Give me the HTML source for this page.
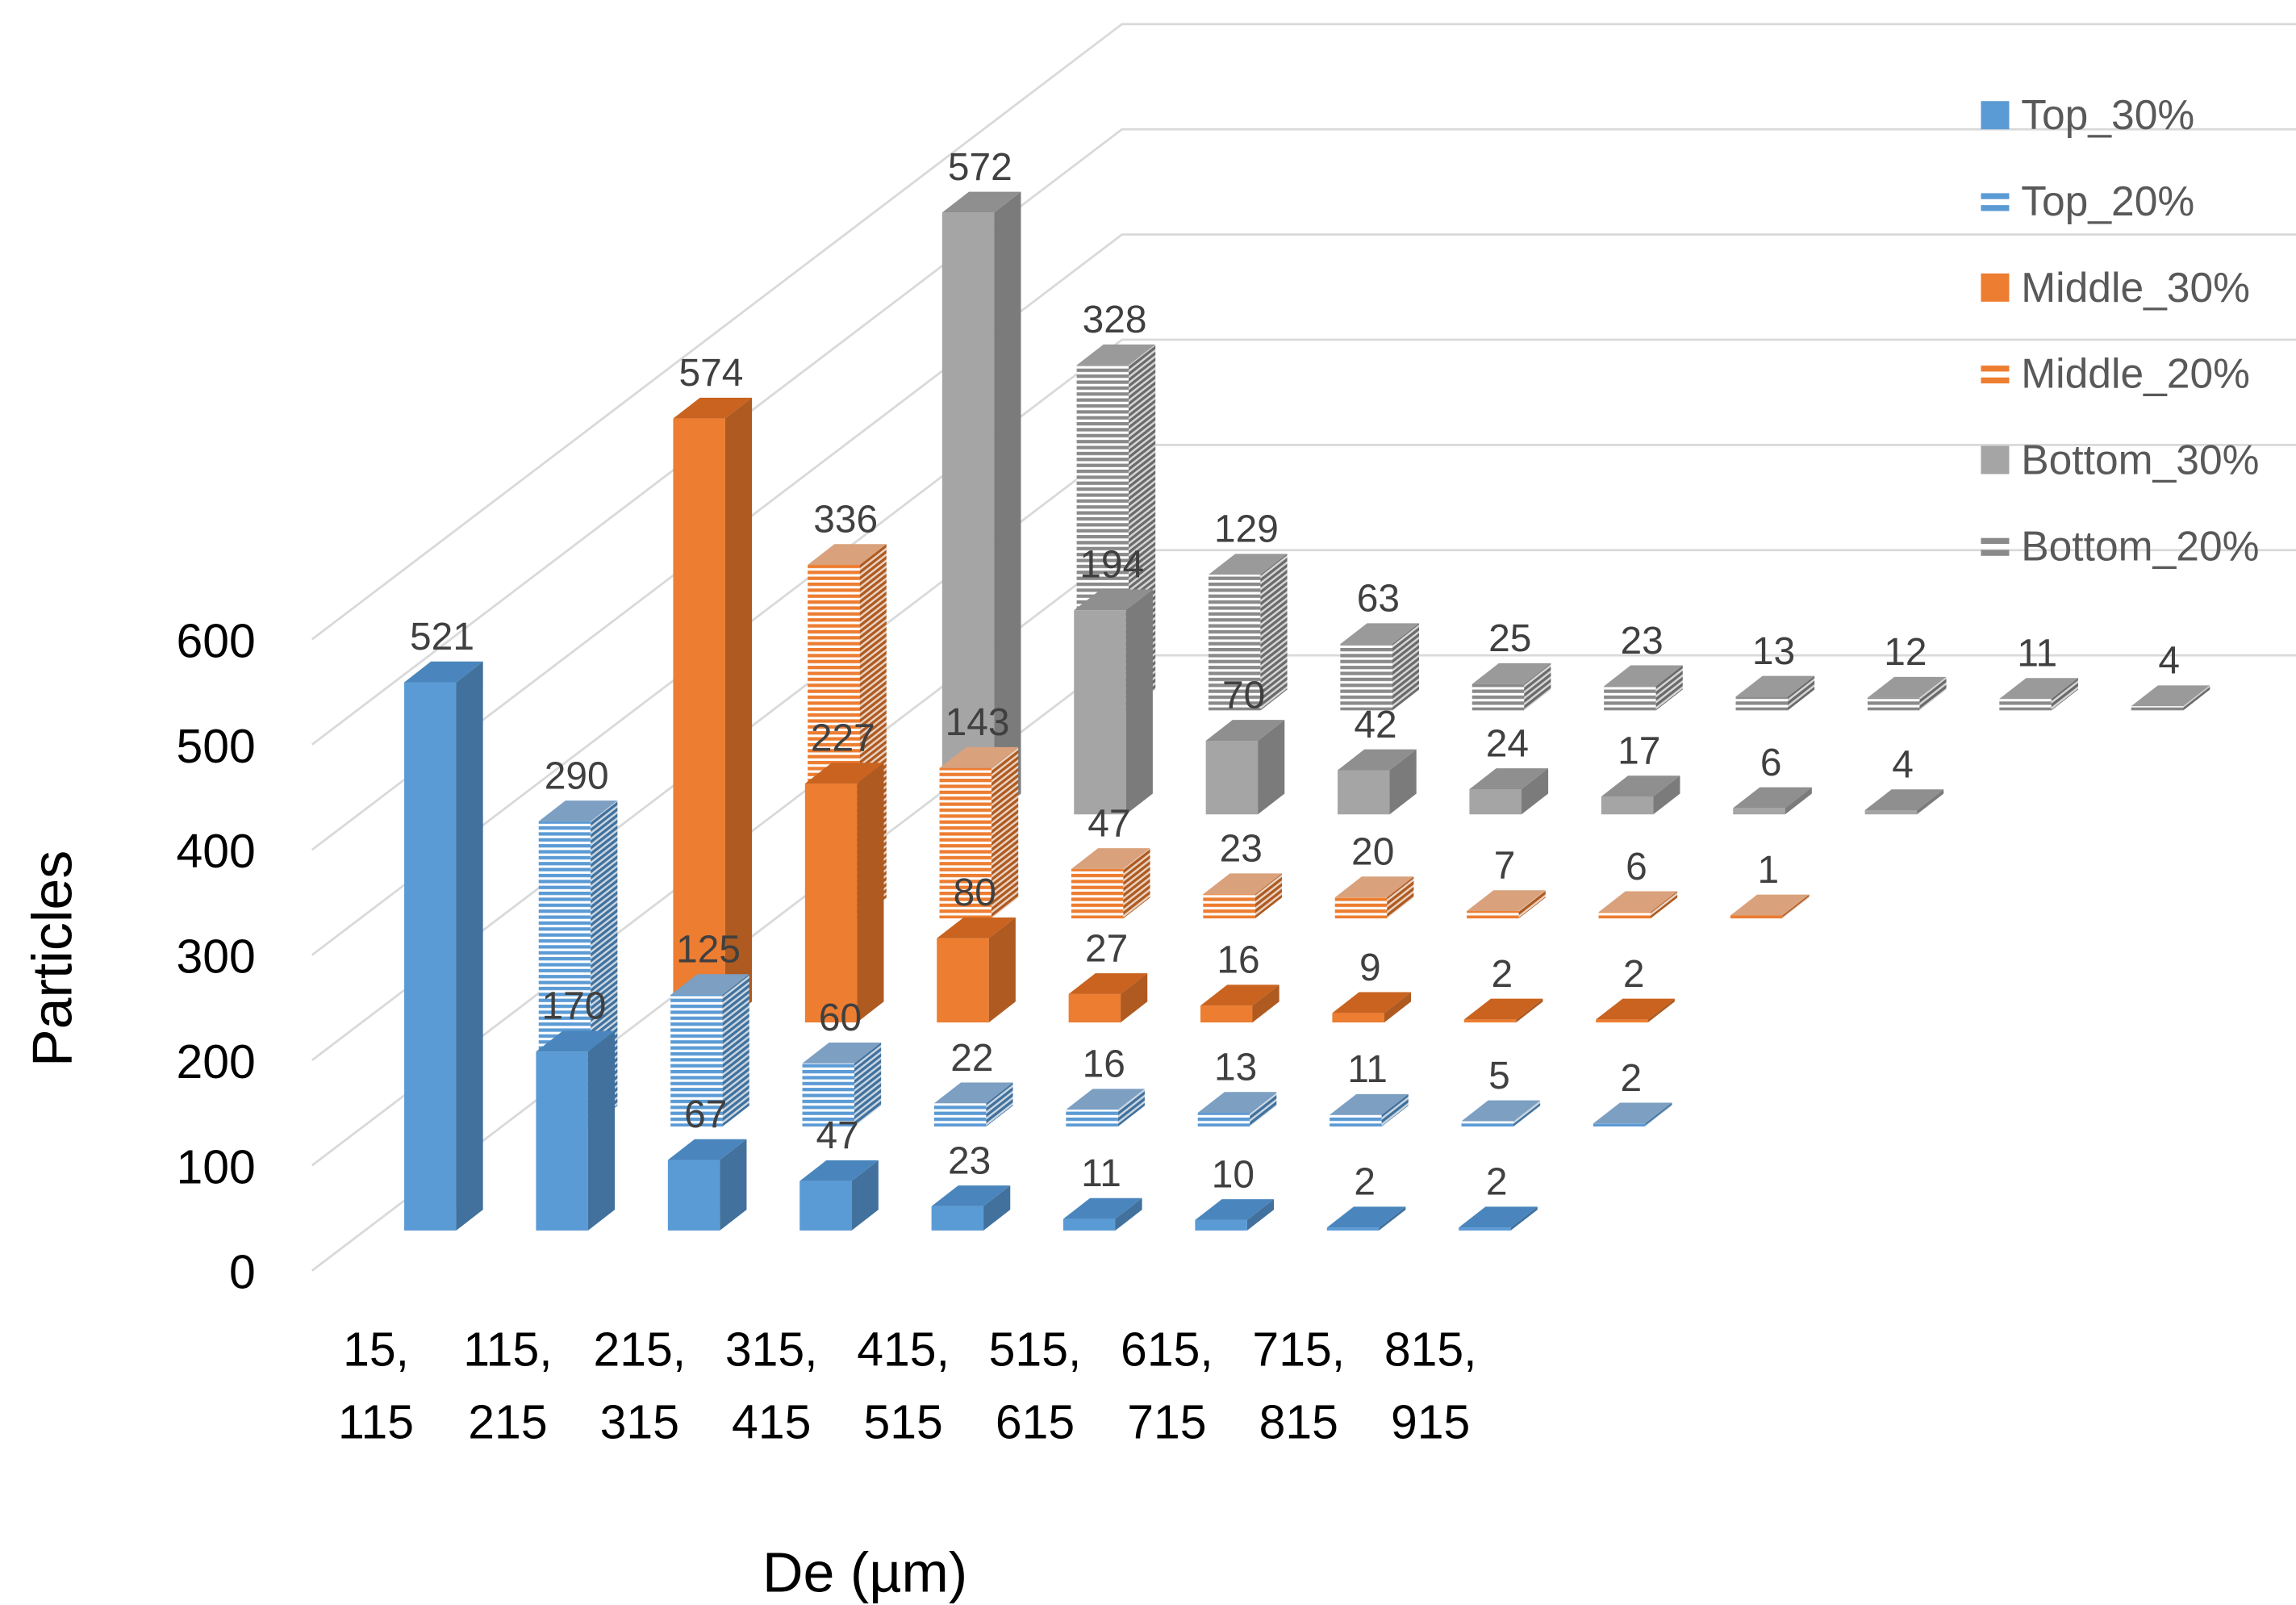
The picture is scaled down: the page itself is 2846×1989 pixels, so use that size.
<!DOCTYPE html>
<html><head><meta charset="utf-8"><style>
html,body{margin:0;padding:0;background:#fff;}
svg{display:block;font-family:"Liberation Sans",sans-serif;}
</style></head><body>
<svg id="chart" width="2846" height="1989" viewBox="0 0 1545 1080" preserveAspectRatio="none" xmlns="http://www.w3.org/2000/svg">
<defs>
<pattern id="st-blue" patternUnits="userSpaceOnUse" width="10" height="4"><rect width="10" height="4" fill="#fff"/><rect width="10" height="2.3" fill="#5B9BD5"/></pattern>
<pattern id="st-blue-s" patternUnits="userSpaceOnUse" width="10" height="4" patternTransform="skewY(-38)"><rect width="10" height="4" fill="#c9d6e3"/><rect width="10" height="2.3" fill="#41719C"/></pattern>
<pattern id="st-orange" patternUnits="userSpaceOnUse" width="10" height="4"><rect width="10" height="4" fill="#fff"/><rect width="10" height="2.3" fill="#ED7D31"/></pattern>
<pattern id="st-orange-s" patternUnits="userSpaceOnUse" width="10" height="4" patternTransform="skewY(-38)"><rect width="10" height="4" fill="#ead3c2"/><rect width="10" height="2.3" fill="#AE5A21"/></pattern>
<pattern id="st-gray" patternUnits="userSpaceOnUse" width="10" height="4"><rect width="10" height="4" fill="#fff"/><rect width="10" height="2.3" fill="#8a8a8a"/></pattern>
<pattern id="st-gray-s" patternUnits="userSpaceOnUse" width="10" height="4" patternTransform="skewY(-38)"><rect width="10" height="4" fill="#d6d6d6"/><rect width="10" height="2.3" fill="#6b6b6b"/></pattern>
</defs>
<g id="grid"></g>
<g id="bars"></g>
<g id="axes"></g>
<text x="48" y="645" font-size="38" text-anchor="middle" transform="rotate(-90 48 645)" fill="#000">Particles</text>
<text x="582" y="1071" font-size="38" text-anchor="middle" fill="#000">De (µm)</text>
<g id="legend"></g>
</svg>
<script>
const categoriesTop = ["15,","115,","215,","315,","415,","515,","615,","715,","815,"];
const categoriesBottom = ["115","215","315","415","515","615","715","815","915"];
const seriesNames = ["Top_30%","Top_20%","Middle_30%","Middle_20%","Bottom_30%","Bottom_20%"];
const top30 = [521,170,67,47,23,11,10,2,2];
const top20 = [290,125,60,22,16,13,11,5,2];
const middle30 = [574,227,80,27,16,9,2,2,0];
const middle20 = [336,143,47,23,20,7,6,1,0];
const bottom30 = [572,194,70,42,24,17,6,4,0];
const bottom20 = [328,129,63,25,23,13,12,11,4];
const yTicks = [0,100,200,300,400,500,600];

const series = [top30,top20,middle30,middle20,bottom30,bottom20];
const styles = [
 {front:"#5B9BD5",side:"#41719C",top:"#4a86bd"},
 {front:"url(#st-blue)",side:"url(#st-blue-s)",top:"#7c9fc2"},
 {front:"#ED7D31",side:"#AE5A21",top:"#c9631f"},
 {front:"url(#st-orange)",side:"url(#st-orange-s)",top:"#d9a27c"},
 {front:"#A5A5A5",side:"#7B7B7B",top:"#8f8f8f"},
 {front:"url(#st-gray)",side:"url(#st-gray-s)",top:"#9a9a9a"}
];
const NS="http://www.w3.org/2000/svg";
const S=0.708;
const catStep=88.7, rowDx=90.5, rowDy=70, x0=272, base0=828, bw=35, dd=18, dh=14;
function xPos(r,c){return x0+rowDx*r+catStep*c;}
function baseY(r){return base0-rowDy*r;}
function hPx(v){return v*S;}
function el(tag,attrs,parent){const e=document.createElementNS(NS,tag);for(const k in attrs)e.setAttribute(k,attrs[k]);parent.appendChild(e);return e;}

const grid=document.getElementById('grid');
yTicks.forEach(t=>{
  const yl=855-hPx(t), yb=441-hPx(t);
  const l=el('polyline',{points:`210,${yl} 755,${yb} 1545,${yb}`,fill:'none',stroke:'#d9d9d9','stroke-width':1.5},grid);
  
  
});
const axes=document.getElementById('axes');
yTicks.forEach(t=>{
  const tx=el('text',{x:172,y:855-hPx(t)+12,'font-size':32,'text-anchor':'end',fill:'#000'},axes);
  tx.textContent=t;
  
  
});
categoriesTop.forEach((c,i)=>{
  const cx=253+catStep*i;
  const t1=el('text',{x:cx,y:919,'font-size':32,'text-anchor':'middle',fill:'#000'},axes);
  t1.textContent=c;
  
  
  const t2=el('text',{x:cx,y:968,'font-size':32,'text-anchor':'middle',fill:'#000'},axes);
  t2.textContent=categoriesBottom[i];
  
  
});
const bars=document.getElementById('bars');
for(let r=series.length-1;r>=0;r--){
  const vals=series[r], st=styles[r];
  vals.forEach((v,c)=>{
    if(v<=0)return;
    const x=xPos(r,c), b=baseY(r), h=Math.max(hPx(v),2), y=b-h;
    const g=el('g',{},bars);
    
    
    el('rect',{x:x,y:y,width:bw,height:h,fill:st.front},g);
    el('polygon',{points:`${x+bw},${y} ${x+bw+dd},${y-dh} ${x+bw+dd},${b-dh} ${x+bw},${b}`,fill:st.side},g);
    el('polygon',{points:`${x},${y} ${x+dd},${y-dh} ${x+bw+dd},${y-dh} ${x+bw},${y}`,fill:st.top},g);
    const lb=el('text',{x:x+bw/2+8,y:y-dh-8,'font-size':26,'text-anchor':'middle',fill:'#404040'},g);
    lb.textContent=v;
    
    
  });
}
const legend=document.getElementById('legend');
const lcols=["#5B9BD5","#5B9BD5","#ED7D31","#ED7D31","#A5A5A5","#8a8a8a"];
seriesNames.forEach((n,i)=>{
  const y=77+58*i;
  const g=el('g',{},legend);
  
  
  if(i%2===0){el('rect',{x:1333,y:y-9,width:19,height:19,fill:lcols[i]},g);}
  else{el('rect',{x:1333,y:y-5,width:19,height:4,fill:lcols[i]},g);el('rect',{x:1333,y:y+3,width:19,height:4,fill:lcols[i]},g);}
  const t=el('text',{x:1360,y:y+10,'font-size':28,fill:'#595959'},g);
  t.textContent=n;
});
</script>
</body></html>
